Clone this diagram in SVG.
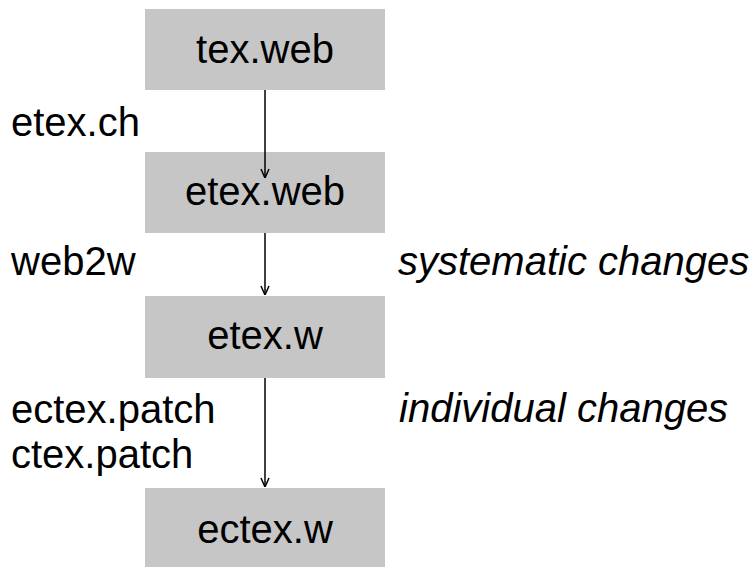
<svg xmlns="http://www.w3.org/2000/svg" width="753" height="567" viewBox="0 0 753 567">
<style>
.box{fill:#c6c6c6}
.t{font-family:"Liberation Sans",Arial,sans-serif;font-size:40px;fill:#000}
.c{text-anchor:middle}
.i{font-style:italic}
.e{stroke:#000;stroke-width:1.5;fill:none}
</style>
<defs>
<marker id="ah" viewBox="0 0 10 10" refX="10" refY="5" markerWidth="10" markerHeight="10" markerUnits="userSpaceOnUse" orient="auto">
<path d="M1,1 L10,5 L1,9" fill="none" stroke="#000" stroke-width="1.5"/>
</marker>
</defs>
<g id="n1"><rect class="box" x="145" y="9" width="240" height="81"/><text class="t c" x="265" y="63">tex.web</text></g>
<g id="n2"><rect class="box" x="145" y="152" width="240" height="81"/><text class="t c" x="265" y="205">etex.web</text></g>
<g id="n3"><rect class="box" x="145" y="296" width="240" height="82"/><text class="t c" x="265" y="349">etex.w</text></g>
<g id="n4"><rect class="box" x="145" y="488" width="240" height="79"/><text class="t c" x="265" y="543">ectex.w</text></g>
<g id="edges">
<line class="e" x1="265" y1="90" x2="265" y2="178" marker-end="url(#ah)"/>
<line class="e" x1="265" y1="233" x2="265" y2="295" marker-end="url(#ah)"/>
<line class="e" x1="265" y1="378" x2="265" y2="487" marker-end="url(#ah)"/>
</g>
<g id="labels">
<text class="t" x="11" y="136">etex.ch</text>
<text class="t" x="11" y="275">web2w</text>
<text class="t" x="11" y="423">ectex.patch</text>
<text class="t" x="11" y="468">ctex.patch</text>
<text class="t i" x="398" y="275">systematic changes</text>
<text class="t i" x="399" y="422">individual changes</text>
</g>
</svg>
